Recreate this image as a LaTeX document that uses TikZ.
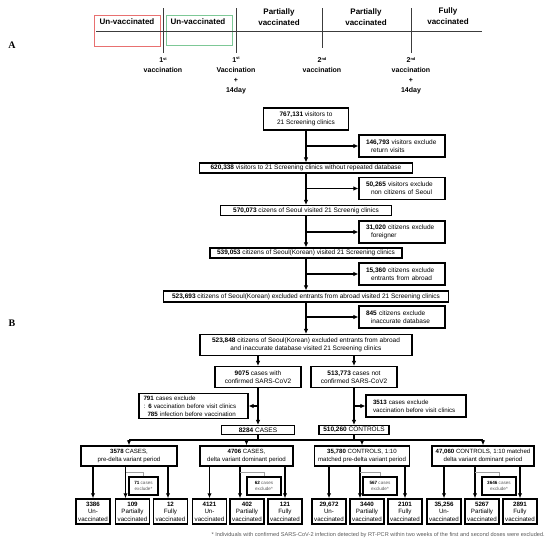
\documentclass[tikz,border=0pt]{standalone}
\usepackage{fontspec}
\setmainfont{Liberation Sans}
\newfontfamily\serifA{Liberation Serif}
\usetikzlibrary{arrows.meta}
\definecolor{redbox}{RGB}{232,112,112}
\definecolor{greenbox}{RGB}{125,200,150}
\definecolor{brk}{RGB}{160,160,160}
\definecolor{fn}{RGB}{90,90,90}
\definecolor{tlc}{RGB}{60,60,60}
\newcommand{\fA}{\fontsize{8}{11}\selectfont\bfseries}
\newcommand{\fAs}{\fontsize{7}{10}\selectfont\bfseries}
\newcommand{\fB}{\fontsize{6.5}{8}\selectfont}
\newcommand{\fX}{\fontsize{6.2}{7.8}\selectfont}
\newcommand{\fM}{\fontsize{6.1}{8}\selectfont}
\newcommand{\fL}{\fontsize{6.2}{7.6}\selectfont}
\newcommand{\fS}{\fontsize{4.6}{6}\selectfont}
\newcommand{\sst}[1]{\raisebox{2.2pt}{\fontsize{4}{4}\selectfont #1}}
\begin{document}
\begin{tikzpicture}[x=1pt,y=-1pt,
  tl/.style={tlc, line width=0.8pt},
  ta/.style={font=\fA, align=center, inner sep=0pt},
  tb/.style={font=\fAs, align=center, inner sep=0pt},
  box/.style={draw, line width=1.1pt, inner sep=0pt, align=center, font=\fB},
  exbox/.style={draw, line width=1.1pt, inner xsep=7pt, inner ysep=0pt, align=left, font=\fB, minimum height=22pt, text width=72pt},
  midbox/.style={draw, line width=1.5pt, inner sep=0pt, minimum height=20pt, align=center, font=\fM},
  leaf/.style={draw, line width=1.5pt, inner sep=0pt, minimum width=34pt, minimum height=25pt, align=center, font=\fL},
  sbox/.style={draw, line width=1.1pt, inner sep=0pt, minimum width=34pt, minimum height=18pt, align=center, font=\fS, text=fn},
  arr/.style={line width=1.1pt, -{Latex[length=5pt,width=4.5pt]}},
  ln/.style={line width=1.1pt},
  brkl/.style={brk, line width=0.8pt},
  lab/.style={font=\serifA\bfseries\fontsize{10}{10}\selectfont, inner sep=0pt}]
\useasboundingbox (0,0) rectangle (550,544);

% ---------------- Part A ----------------
\node[lab] (labA) at (12,45) {A};
\draw[redbox, line width=0.8pt] (94,15) rectangle (160,46);
\draw[greenbox, line width=0.8pt] (166,15) rectangle (232,45);
\draw[tl] (96,31) -- (482,31);
\draw[tl] (163,8) -- (163,53);
\draw[tl] (236,8) -- (236,53);
\draw[tl] (322,8) -- (322,48);
\draw[tl] (411,8) -- (411,53);
\node[ta] (p1) at (127,22) {Un-vaccinated};
\node[ta] (p2) at (198,22) {Un-vaccinated};
\node[ta] (p3) at (279,17.5) {Partially\\vaccinated};
\node[ta] (p4) at (366,17.5) {Partially\\vaccinated};
\node[ta] (p5) at (448,16.5) {Fully\\vaccinated};
\node[tb] (q1) at (163,65) {1\sst{st}\\vaccination};
\node[tb] (q2) at (236,75.5) {1\sst{st}\\Vaccination\\+\\14day};
\node[tb] (q3) at (322,65) {2\sst{nd}\\vaccination};
\node[tb] (q4) at (411,75.5) {2\sst{nd}\\vaccination\\+\\14day};

% ---------------- Part B ----------------
\node[lab] (labB) at (12,323) {B};

\node[box, minimum width=85pt, minimum height=22pt] (b1) at (306,119) {\textbf{767,131} visitors to\\21 Screening clinics};
\node[exbox] (e1) at (402,146) {\textbf{146,793} visitors exclude\\\hspace*{5pt}return visits};
\node[box, minimum width=213pt, minimum height=10pt] (b2) at (306,168) {\textbf{620,338} visitors to 21 Screening clinics without repeated database};
\node[exbox] (e2) at (402,188.5) {\textbf{50,265} visitors exclude\\\hspace*{5pt}non citizens of Seoul};
\node[box, minimum width=171pt, minimum height=10pt] (b3) at (306,210.5) {\textbf{570,073} cizens of Seoul visited 21 Screenig clinics};
\node[exbox] (e3) at (402,232) {\textbf{31,020} citizens exclude\\\hspace*{5pt}foreigner};
\node[box, minimum width=192pt, minimum height=10pt] (b4) at (306,253) {\textbf{539,053} citizens of Seoul(Korean) visited 21 Screening clinics};
\node[exbox] (e4) at (402,274) {\textbf{15,360} citizens exclude\\\hspace*{5pt}entrants from abroad};
\node[box, minimum width=285pt, minimum height=11pt] (b5) at (306,296.5) {\textbf{523,693} citizens of Seoul(Korean) excluded entrants from abroad visited 21 Screening clinics};
\node[exbox] (e5) at (402,317) {\textbf{845} citizens exclude\\\hspace*{5pt}inaccurate database};
\node[box, minimum width=212pt, minimum height=21pt] (b6) at (306,345) {\textbf{523,848} citizens of Seoul(Korean) excluded entrants from abroad\\and inaccurate database visited 21 Screening clinics};

\draw[arr] (b1.south) -- (b2.north);
\draw[arr] (b2.south) -- (b3.north);
\draw[arr] (b3.south) -- (b4.north);
\draw[arr] (b4.south) -- (b5.north);
\draw[arr] (b5.south) -- (b6.north);
\draw[arr] (b1.south |- e1.west) -- (e1.west);
\draw[arr] (b2.south |- e2.west) -- (e2.west);
\draw[arr] (b3.south |- e3.west) -- (e3.west);
\draw[arr] (b4.south |- e4.west) -- (e4.west);
\draw[arr] (b5.south |- e5.west) -- (e5.west);

\node[box, minimum width=86pt, minimum height=21pt] (b7) at (258,377) {\textbf{9075} cases with\\confirmed SARS-CoV2};
\node[box, minimum width=86pt, minimum height=21pt] (b8) at (354,377) {\textbf{513,773} cases not\\confirmed SARS-CoV2};
\draw[arr] (b6.south -| b7.north) -- (b7.north);
\draw[arr] (b6.south -| b8.north) -- (b8.north);

\node[draw, line width=1.1pt, inner xsep=4.5pt, inner ysep=0pt, minimum height=25pt, text width=100pt, align=left, font=\fX] (x7) at (193.5,406) {\textbf{791} cases exclude\\: \textbf{6} vaccination before visit clinics\\\hspace*{4pt}\textbf{785} infection before vaccination};
\node[draw, line width=1.1pt, inner xsep=5pt, inner ysep=0pt, minimum height=22pt, text width=90pt, align=left, font=\fX] (x8) at (416,406) {\hspace*{2pt}\textbf{3513} cases exclude\\\hspace*{2pt}vaccination before visit clinics};

\node[box, minimum width=73pt, minimum height=9pt] (c1) at (258,430) {\textbf{8284} CASES};
\node[box, minimum width=70pt, minimum height=9pt] (c2) at (354,430) {\textbf{510,260} CONTROLS};
\draw[arr] (b7.south) -- (c1.north);
\draw[arr] (b8.south) -- (c2.north);
\draw[arr] (b7.south |- x7.east) -- (x7.east);
\draw[arr] (b8.south |- x8.west) -- (x8.west);

\node[midbox, minimum width=96pt] (d1) at (129,456) {\textbf{3578} CASES,\\pre-delta variant period};
\node[midbox, minimum width=93pt] (d2) at (246.5,456) {\textbf{4706} CASES,\\delta variant dominant period};
\node[midbox, minimum width=95pt] (d3) at (362,456) {\textbf{35,780} CONTROLS, 1:10\\matched pre-delta variant period};
\node[midbox, minimum width=102pt] (d4) at (483,456) {\textbf{47,060} CONTROLS, 1:10 matched\\delta variant dominant period};

\coordinate (busL) at (129,440);
\coordinate (busR) at (483,440);
\draw[ln] (busL) -- (busR);
\draw[ln] (c1.south) -- (c1.south |- busL);
\draw[ln] (c2.south) -- (c2.south |- busL);
\draw[arr] (d1.north |- busL) -- (d1.north);
\draw[arr] (d2.north |- busL) -- (d2.north);
\draw[arr] (d3.north |- busL) -- (d3.north);
\draw[arr] (d4.north |- busL) -- (d4.north);

% leaves
\node[leaf] (l1) at (93,511.5) {\textbf{3386}\\Un-\\vaccinated};
\node[leaf] (l2) at (132.5,511.5) {\textbf{109}\\Partially\\vaccinated};
\node[leaf] (l3) at (170.5,511.5) {\textbf{12}\\Fully\\vaccinated};
\node[leaf] (l4) at (209.5,511.5) {\textbf{4121}\\Un-\\vaccinated};
\node[leaf] (l5) at (247,511.5) {\textbf{402}\\Partially\\vaccinated};
\node[leaf] (l6) at (285,511.5) {\textbf{121}\\Fully\\vaccinated};
\node[leaf] (l7) at (329,511.5) {\textbf{29,672}\\Un-\\vaccinated};
\node[leaf] (l8) at (367,511.5) {\textbf{3440}\\Partially\\vaccinated};
\node[leaf] (l9) at (405,511.5) {\textbf{2101}\\Fully\\vaccinated};
\node[leaf] (l10) at (444,511.5) {\textbf{35,256}\\Un-\\vaccinated};
\node[leaf] (l11) at (482,511.5) {\textbf{5267}\\Partially\\vaccinated};
\node[leaf] (l12) at (520,511.5) {\textbf{2891}\\Fully\\vaccinated};

\coordinate (t2) at ([xshift=-7pt]l2.north);
\coordinate (t5) at ([xshift=-7pt]l5.north);
\coordinate (t8) at ([xshift=-7pt]l8.north);
\coordinate (t11) at ([xshift=-7pt]l11.north);
\coordinate (t3) at ([xshift=-2.5pt]l3.north);

\draw[arr] (d1.south -| l1.north) -- (l1.north);
\draw[arr] (d1.south -| t2) -- (t2);
\draw[arr] (d1.south -| t3) -- (t3);
\draw[arr] (d2.south -| l4.north) -- (l4.north);
\draw[arr] (d2.south -| t5) -- (t5);
\draw[arr] (d2.south -| l6.north) -- (l6.north);
\draw[arr] (d3.south -| l7.north) -- (l7.north);
\draw[arr] (d3.south -| t8) -- (t8);
\draw[arr] (d3.south -| l9.north) -- (l9.north);
\draw[arr] (d4.south -| l10.north) -- (l10.north);
\draw[arr] (d4.south -| t11) -- (t11);
\draw[arr] (d4.south -| l12.north) -- (l12.north);

\node[sbox, minimum width=29pt] (s1) at (143.5,486) {\textcolor{black}{\textbf{71}} cases\\exclude*};
\node[sbox] (s2) at (264,486) {\textcolor{black}{\textbf{62}} cases\\exclude*};
\node[sbox] (s3) at (380,486) {\textcolor{black}{\textbf{567}} cases\\exclude*};
\node[sbox] (s4) at (499,486) {\textcolor{black}{\textbf{3646}} cases\\exclude*};

\coordinate (gy) at (0,472);
\draw[brkl] (s1.north) |- (t2 |- gy);
\draw[brkl] (s2.north) |- (t5 |- gy);
\draw[brkl] (s3.north) |- (t8 |- gy);
\draw[brkl] (s4.north) |- (t11 |- gy);

\node[anchor=east, font=\fontsize{5.6}{6}\selectfont, text=fn, inner sep=0pt] (fnote) at (545,535) {* Individuals with confirmed SARS-CoV-2 infection detected by RT-PCR within two weeks of the first and second doses were excluded.};
\end{tikzpicture}
\end{document}
